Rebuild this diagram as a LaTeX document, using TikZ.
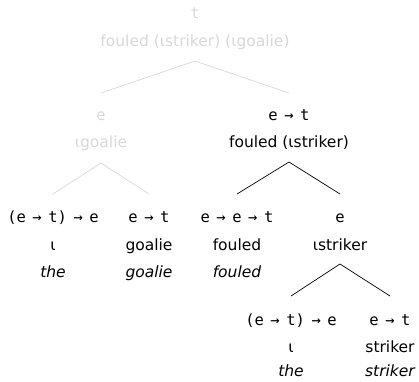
\documentclass[tikz,border=0pt]{standalone}
\usepackage{fontspec}
\setmainfont{DejaVu Sans}
\newfontfamily\typefont[WordSpace=0.7]{DejaVu Sans Mono}
\definecolor{faded}{HTML}{D8D8D8}
\begin{document}
\begin{tikzpicture}[x=1pt,y=1pt,
  lbl/.style={inner sep=0pt, anchor=base, font=\fontsize{15.5}{18}\selectfont},
  typ/.style={inner sep=0pt, anchor=base, font=\typefont\fontsize{15.5}{18}\selectfont},
  word/.style={inner sep=0pt, anchor=base, font=\fontsize{15.5}{18}\selectfont\itshape},
  dim/.style={text=faded},
  branch/.style={line width=0.7pt, black},
  dimbranch/.style={line width=0.7pt, faded}]
\useasboundingbox (0,0) rectangle (419,-381);

% root
\node[typ,dim] (r-t) at (195,-18) {t};
\node[lbl,dim] (r-m) at (195,-46) {fouled (ιstriker) (ιgoalie)};
\coordinate (r-top) at (195,-61);

% left daughter: the goalie
\node[typ,dim] (g-t) at (101,-120) {e};
\node[lbl,dim] (g-m) at (101,-147) {ιgoalie};
\coordinate (g-in) at (101,-93);
\coordinate (g-top) at (101,-163);

% right daughter: fouled the striker
\node[typ] (v-t) at (289,-120) {e → t};
\node[lbl] (v-m) at (289,-147) {fouled (ιstriker)};
\coordinate (v-in) at (289,-93);
\coordinate (v-top) at (289,-162);

% leaves under the goalie
\node[typ] (d1-t) at (53,-222) {(e → t) → e};
\node[lbl] (d1-m) at (53,-250) {ι};
\node[word] (d1-w) at (53,-277) {the};
\coordinate (d1-in) at (53,-194);

\node[typ] (n1-t) at (149,-222) {e → t};
\node[lbl] (n1-m) at (149,-250) {goalie};
\node[word] (n1-w) at (149,-277) {goalie};
\coordinate (n1-in) at (149,-194);

% verb
\node[typ] (f-t) at (237,-222) {e → e → t};
\node[lbl] (f-m) at (237,-250) {fouled};
\node[word] (f-w) at (237,-277) {fouled};
\coordinate (f-in) at (237,-194);

% the striker
\node[typ] (s-t) at (340,-222) {e};
\node[lbl] (s-m) at (340,-250) {ιstriker};
\coordinate (s-in) at (340,-194);
\coordinate (s-top) at (340,-264);

\node[typ] (d2-t) at (291,-325) {(e → t) → e};
\node[lbl] (d2-m) at (291,-352) {ι};
\node[word] (d2-w) at (291,-376.5) {the};
\coordinate (d2-in) at (291,-296);

\node[typ] (n2-t) at (390,-325) {e → t};
\node[lbl] (n2-m) at (390,-352) {striker};
\node[word] (n2-w) at (390,-376.5) {striker};
\coordinate (n2-in) at (390,-296);

% branches
\draw[dimbranch] (g-in) -- (r-top) -- (v-in);
\draw[dimbranch] (d1-in) -- (g-top) -- (n1-in);
\draw[branch] (f-in) -- (v-top) -- (s-in);
\draw[branch] (d2-in) -- (s-top) -- (n2-in);
\end{tikzpicture}
\end{document}
